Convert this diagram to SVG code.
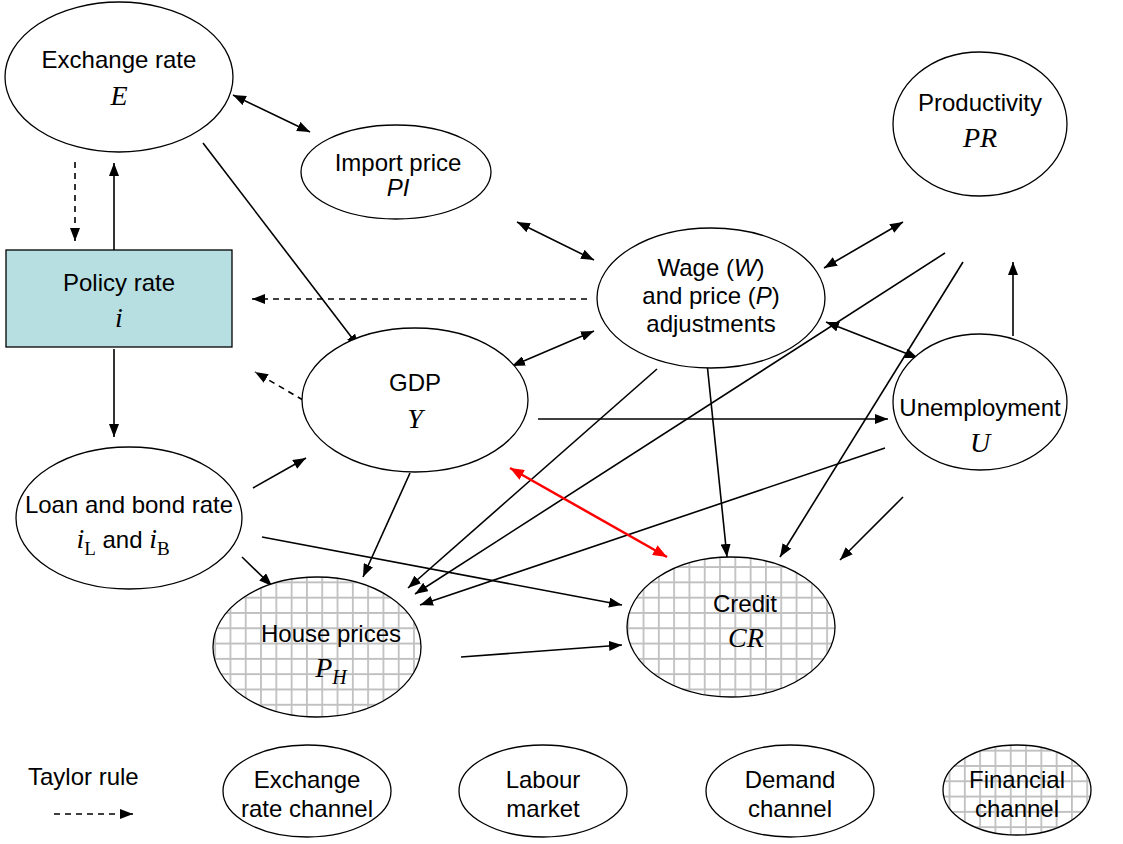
<svg xmlns="http://www.w3.org/2000/svg" width="1123" height="844" viewBox="0 0 1123 844">
<style>
.n{fill:#fff;stroke:#000;stroke-width:1.3}
.h{fill:url(#grid);stroke:#000;stroke-width:1.3}
.t{font-family:"Liberation Sans",Arial,sans-serif;font-size:24px;fill:#000;text-anchor:middle}
.m{font-family:"Liberation Serif","Times New Roman",serif;font-style:italic;font-size:28px}
.s{font-family:"Liberation Serif","Times New Roman",serif;font-size:19px}
.si{font-family:"Liberation Serif","Times New Roman",serif;font-style:italic;font-size:20px}
.it{font-style:italic}
.c{stroke:#000;stroke-width:1.6;fill:none}
.a{marker-end:url(#ah)}
.b{marker-start:url(#ah);marker-end:url(#ah)}
.d{stroke-dasharray:6 5}
.r{stroke:#f00;stroke-width:2.5;fill:none;marker-start:url(#ahr);marker-end:url(#ahr)}
</style>
<defs>
<pattern id="grid" patternUnits="userSpaceOnUse" width="15.3" height="15.3">
<rect width="15.3" height="15.3" fill="#fff"/>
<path d="M0,0.9H15.3M0.9,0V15.3" stroke="#c0c0c0" stroke-width="1.8"/>
</pattern>
<marker id="ah" viewBox="0 0 13 10" refX="13" refY="5" markerWidth="13" markerHeight="10" markerUnits="userSpaceOnUse" orient="auto-start-reverse"><path d="M0,0L13,5L0,10z" fill="#000"/></marker>
<marker id="ahr" viewBox="0 0 14 11" refX="14" refY="5.5" markerWidth="14" markerHeight="11" markerUnits="userSpaceOnUse" orient="auto-start-reverse"><path d="M0,0L14,5.5L0,11z" fill="#f00"/></marker>
</defs>
<rect width="1123" height="844" fill="#fff"/>

<g id="connectors">
<line class="c b" x1="233" y1="95" x2="310" y2="132"/>
<line class="c a" x1="203" y1="143" x2="359" y2="347"/>
<line class="c a d" x1="75" y1="162" x2="75" y2="241"/>
<line class="c a" x1="114" y1="250" x2="114" y2="163"/>
<line class="c a d" x1="587" y1="299" x2="252" y2="299"/>
<line class="c a d" x1="303" y1="400" x2="255" y2="372"/>
<line class="c a" x1="114" y1="349" x2="114" y2="437"/>
<line class="c a" x1="253" y1="488" x2="306" y2="458"/>
<line class="c a" x1="242" y1="557" x2="272" y2="586"/>
<line class="c a" x1="262" y1="537" x2="622" y2="605"/>
<line class="c a" x1="410" y1="473" x2="363" y2="577"/>
<line class="c b" x1="517" y1="222" x2="594" y2="260"/>
<line class="c b" x1="512" y1="366" x2="594" y2="331"/>
<line class="c b" x1="824" y1="268" x2="903" y2="222"/>
<line class="c b" x1="826" y1="322" x2="918" y2="358"/>
<line class="c a" x1="1013" y1="336" x2="1013" y2="262"/>
<line class="c a" x1="538" y1="419" x2="888" y2="419"/>
<line class="c a" x1="657" y1="369" x2="408" y2="588"/>
<line class="c a" x1="707" y1="363" x2="727" y2="557"/>
<line class="c a" x1="945" y1="253" x2="415" y2="594"/>
<line class="c a" x1="963" y1="262" x2="780" y2="557"/>
<line class="c a" x1="885" y1="448" x2="420" y2="605"/>
<line class="c a" x1="903" y1="497" x2="840" y2="560"/>
<line class="c a" x1="461" y1="657" x2="622" y2="645"/>
<line class="r" x1="510" y1="468" x2="667" y2="557"/>
</g>

<g id="exchange-rate">
<ellipse class="n" cx="119" cy="77" rx="114" ry="75"/>
<text class="t" x="119" y="68">Exchange rate</text>
<text class="t m" x="119" y="105">E</text>
</g>
<g id="import-price">
<ellipse class="n" cx="396" cy="172" rx="95" ry="47"/>
<text class="t" x="398" y="171">Import price</text>
<text class="t it" x="398" y="196">PI</text>
</g>
<g id="productivity">
<ellipse class="n" cx="980" cy="124" rx="87" ry="72"/>
<text class="t" x="980" y="111">Productivity</text>
<text class="t m" x="980" y="147">PR</text>
</g>
<g id="policy-rate">
<rect x="6" y="250" width="226" height="97" fill="#b7dfe2" stroke="#000" stroke-width="1.3"/>
<text class="t" x="119" y="291">Policy rate</text>
<text class="t m" x="119" y="327">i</text>
</g>
<g id="wage-price">
<ellipse class="n" cx="711" cy="298" rx="114" ry="70"/>
<text class="t" x="711" y="276">Wage (<tspan class="it">W</tspan>)</text>
<text class="t" x="711" y="304">and price (<tspan class="it">P</tspan>)</text>
<text class="t" x="711" y="332">adjustments</text>
</g>
<g id="gdp">
<ellipse class="n" cx="415" cy="400" rx="113" ry="72"/>
<text class="t" x="415" y="391">GDP</text>
<text class="t m" x="415" y="428">Y</text>
</g>
<g id="unemployment">
<ellipse class="n" cx="980" cy="402" rx="87" ry="68"/>
<text class="t" x="980" y="416">Unemployment</text>
<text class="t m" x="980" y="452">U</text>
</g>
<g id="loan-bond-rate">
<ellipse class="n" cx="129" cy="518" rx="113" ry="71"/>
<text class="t" x="129" y="513">Loan and bond rate</text>
<text class="t" x="123" y="548"><tspan class="m">i</tspan><tspan class="s" dy="7">L</tspan><tspan dy="-7"> and </tspan><tspan class="m">i</tspan><tspan class="s" dy="7">B</tspan></text>
</g>
<g id="house-prices">
<ellipse class="h" cx="317" cy="647" rx="104" ry="70"/>
<text class="t" x="331" y="642">House prices</text>
<text class="t" x="331" y="677"><tspan class="m">P</tspan><tspan class="si" dy="7">H</tspan></text>
</g>
<g id="credit">
<ellipse class="h" cx="731" cy="627" rx="104" ry="70"/>
<text class="t" x="745" y="612">Credit</text>
<text class="t m" x="746" y="647">CR</text>
</g>

<g id="legend-taylor">
<text class="t" x="28" y="785" style="text-anchor:start">Taylor rule</text>
<line class="c a d" x1="54" y1="814" x2="133" y2="814"/>
</g>
<g id="legend-exchange">
<ellipse class="n" cx="307" cy="791" rx="84" ry="46"/>
<text class="t" x="307" y="788">Exchange</text>
<text class="t" x="307" y="817">rate channel</text>
</g>
<g id="legend-labour">
<ellipse class="n" cx="543" cy="791" rx="84" ry="46"/>
<text class="t" x="543" y="788">Labour</text>
<text class="t" x="543" y="817">market</text>
</g>
<g id="legend-demand">
<ellipse class="n" cx="790" cy="791" rx="84" ry="46"/>
<text class="t" x="790" y="788">Demand</text>
<text class="t" x="790" y="817">channel</text>
</g>
<g id="legend-financial">
<ellipse class="h" cx="1017" cy="790" rx="74" ry="45"/>
<text class="t" x="1017" y="788">Financial</text>
<text class="t" x="1017" y="817">channel</text>
</g>
</svg>
